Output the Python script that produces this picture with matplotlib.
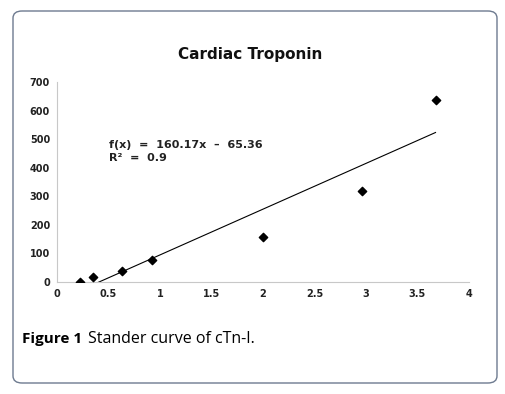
import matplotlib.pyplot as plt
from matplotlib.patches import FancyBboxPatch
import numpy as np

# data
conc = [0.22, 0.35, 0.63, 0.925, 2.0, 2.96, 3.675]
signal = [0, 16, 37, 78, 156, 318, 637]
slope, intercept = 160.17, -65.36
xticks = [0, 0.5, 1, 1.5, 2, 2.5, 3, 3.5, 4]
xtick_labels = ['0', '0.5', '1', '1.5', '2', '2.5', '3', '3.5', '4']
yticks = [0, 100, 200, 300, 400, 500, 600, 700]

fig = plt.figure(figsize=(5.05, 3.94), dpi=100)

# rounded frame round the whole figure
frame = FancyBboxPatch((13 / 505, 11 / 394), 484 / 505, 372 / 394,
                       boxstyle="round,pad=0,rounding_size=0.018",
                       transform=fig.transFigure, fill=False,
                       edgecolor='#6d7a8f', linewidth=1.0)
fig.patches.append(frame)

ax = fig.add_axes([57 / 505, 112 / 394, 412 / 505, 200 / 394])
ax.scatter(conc, signal, marker='D', s=18, color='black', zorder=3)

xs = np.array([min(conc), max(conc)])
ax.plot(xs, slope * xs + intercept, color='black', linewidth=0.8)

ax.set_xlim(0, 4)
ax.set_ylim(0, 700)
ax.set_xticks(xticks)
ax.set_xticklabels(xtick_labels)
ax.set_yticks(yticks)
for lbl in ax.get_xticklabels() + ax.get_yticklabels():
    lbl.set_fontweight('bold')
    lbl.set_fontsize(7)
    lbl.set_color('#222222')
ax.tick_params(length=0, pad=5)
ax.spines['top'].set_visible(False)
ax.spines['right'].set_visible(False)
ax.spines['left'].set_color('#c8c8c8')
ax.spines['bottom'].set_color('#c8c8c8')

ax.text(0.505, 458, 'f(x)  =  160.17x  \u2013  65.36\nR\u00b2  =  0.9',
        fontsize=8, fontweight='bold', va='center', linespacing=1.35,
        color='#222222')

fig.text(250 / 505, 1 - 54 / 394, 'Cardiac Troponin',
         ha='center', va='center', fontsize=11, fontweight='bold',
         color='#111111')

fig.text(22 / 505, 1 - 339 / 394, 'Figure 1', ha='left', va='center',
         fontsize=11, fontweight='bold', family='Open Sans')
fig.text(88 / 505, 1 - 339 / 394, 'Stander curve of cTn-I.', ha='left',
         va='center', fontsize=11.5, family='Open Sans')

fig.savefig('out.png', dpi=100)
